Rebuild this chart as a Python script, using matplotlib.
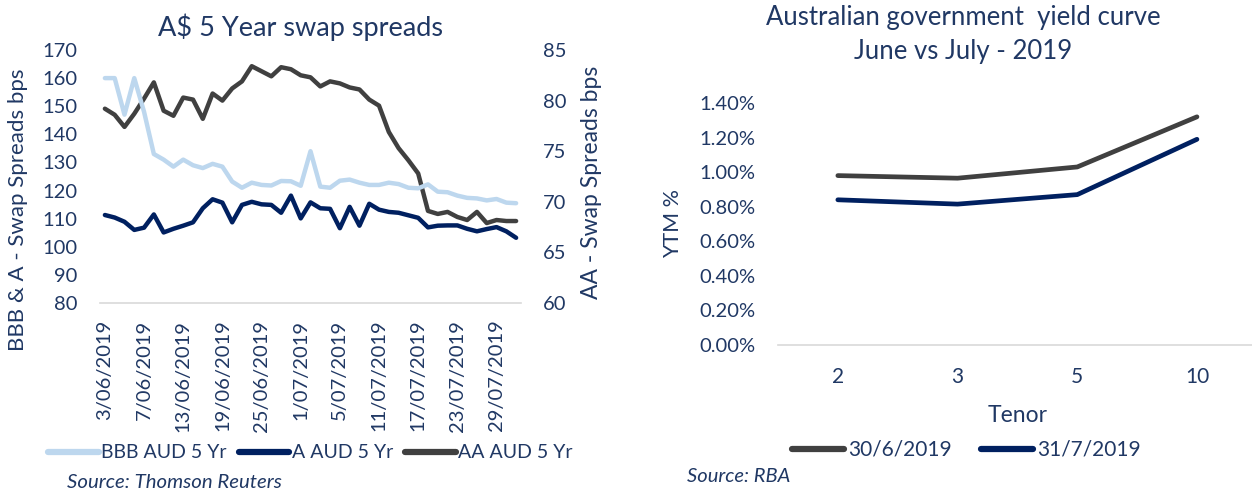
import matplotlib
matplotlib.use("Agg")
import matplotlib.pyplot as plt
from matplotlib.lines import Line2D
import numpy as np
import pandas as pd

plt.rcParams['font.family'] = ['Lato', 'DejaVu Sans']

NAVY_TXT = '#203864'
C_BBB = '#bdd7ee'
C_A = '#002060'
C_AA = '#404040'
GRID = '#d9d9d9'

# business days 3 June - 31 July 2019
dates = pd.bdate_range('2019-06-03', '2019-07-31')
date_labels = [f"{d.day}/{d.month:02d}/{d.year}" for d in dates]

bbb = [160, 160, 147, 160, 148, 133, 131, 128.5, 131, 129, 128, 129.5, 128.5, 123.2,
       121, 122.8, 122, 121.8, 123.4, 123.3, 121.7, 134, 121.4, 121, 123.5, 123.9,
       122.8, 122, 122, 122.8, 122.3, 121, 120.8, 122.2, 119.6, 119.4, 118.2, 117.4,
       117.2, 116.5, 117, 115.7, 115.5]
a = [111.3, 110.4, 108.9, 106, 106.8, 111.5, 105.1, 106.4, 107.5, 108.7, 113.7, 116.9,
     115.7, 108.7, 114.9, 116, 115.1, 114.9, 112.1, 118.2, 110.1, 115.8, 113.7, 113.5,
     106.6, 114.2, 107.5, 115.3, 113.2, 112.4, 112.1, 111.2, 110.3, 106.9, 107.5, 107.6,
     107.6, 106.4, 105.5, 106.3, 107, 105.5, 103.2]
aa = [79.2, 78.6, 77.4, 78.7, 80.2, 81.8, 79.0, 78.5, 80.3, 80.1, 78.2, 80.7, 80.0,
      81.2, 81.9, 83.4, 82.9, 82.4, 83.3, 83.1, 82.5, 82.3, 81.4, 81.9, 81.7, 81.3,
      81.1, 80.1, 79.5, 76.9, 75.3, 74.1, 72.8, 69.1, 68.8, 69.0, 68.5, 68.2, 69.0,
      67.9, 68.2, 68.1, 68.1]

tenors = ['2', '3', '5', '10']
june = [0.98, 0.965, 1.03, 1.32]
july = [0.84, 0.815, 0.87, 1.19]

W, H = 1252, 492
fig = plt.figure(figsize=(W / 100, H / 100), dpi=100)

# ---- left chart
ax = fig.add_axes([100 / W, 1 - 303 / H, 421 / W, 253 / H])
ax2 = ax.twinx()
x = np.arange(len(dates))
ax.plot(x, bbb, color=C_BBB, lw=3.2, solid_joinstyle='round', solid_capstyle='round', zorder=2)
ax.plot(x, a, color=C_A, lw=3.2, solid_joinstyle='round', solid_capstyle='round', zorder=3)
ax2.plot(x, aa, color=C_AA, lw=3.2, solid_joinstyle='round', solid_capstyle='round')
ax.set_zorder(ax2.get_zorder() + 1)
ax.patch.set_visible(False)

ax.set_xlim(-0.5, len(dates) - 0.5)
ax.set_ylim(80, 170)
ax.set_yticks(range(80, 171, 10))
ax2.set_ylim(60, 85)
ax2.set_yticks(range(60, 86, 5))
ax.set_xticks(x[::4])
ax.set_xticklabels(date_labels[::4], rotation=90, va='top', ha='center')

for a_ in (ax, ax2):
    for s in a_.spines.values():
        s.set_visible(False)
    a_.tick_params(length=0, labelsize=14.5, labelcolor=NAVY_TXT)
ax.spines['bottom'].set_visible(True)
ax.spines['bottom'].set_color(GRID)
ax.spines['bottom'].set_linewidth(1.2)
ax.tick_params(axis='x', pad=12, labelsize=14.5)
ax.tick_params(axis='y', pad=16)
ax2.tick_params(axis='y', pad=16)

fig.text(301 / W, 1 - 27 / H, 'A$ 5 Year swap spreads', ha='center', va='center',
         fontsize=19.5, color=NAVY_TXT)
fig.text(18 / W, 1 - 210 / H, 'BBB & A - Swap Spreads bps', rotation=90, ha='center',
         va='center', fontsize=16, color=NAVY_TXT)
fig.text(592 / W, 1 - 182 / H, 'AA - Swap Spreads bps', rotation=90, ha='center',
         va='center', fontsize=16.5, color=NAVY_TXT)

h1 = [Line2D([], [], color=C_BBB, lw=4.5, solid_capstyle='round'),
      Line2D([], [], color=C_A, lw=4.5, solid_capstyle='round'),
      Line2D([], [], color=C_AA, lw=4.5, solid_capstyle='round')]
fig.legend(h1, ['BBB AUD 5 Yr', 'A AUD 5 Yr', 'AA AUD 5 Yr'], loc='center left',
           bbox_to_anchor=(48 / W, 1 - 453 / H), ncol=3, frameon=False, fontsize=14,
           labelcolor=NAVY_TXT, handlelength=2.6, handletextpad=0.15, columnspacing=0.6,
           borderpad=0, borderaxespad=0)
fig.text(67 / W, 1 - 482 / H, 'Source: Thomson Reuters', style='italic', ha='left',
         va='center', fontsize=14.7, color=NAVY_TXT)

# ---- right chart
axr = fig.add_axes([778 / W, 1 - 345 / H, 474 / W, 242 / H])
xr = np.arange(len(tenors))
axr.plot(xr, june, color=C_AA, lw=3.4, solid_capstyle='round', solid_joinstyle='round')
axr.plot(xr, july, color=C_A, lw=3.4, solid_capstyle='round', solid_joinstyle='round')
axr.set_xlim(-0.5, -0.5 + 474 / 119.7)
axr.set_ylim(0, 1.4)
axr.set_yticks(np.arange(0, 1.41, 0.2))
axr.set_yticklabels([f"{v:.2f}%" for v in np.arange(0, 1.41, 0.2)])
axr.set_xticks(xr)
axr.set_xticklabels(tenors)
for s in axr.spines.values():
    s.set_visible(False)
axr.spines['bottom'].set_visible(True)
axr.spines['bottom'].set_color(GRID)
axr.spines['bottom'].set_linewidth(1.2)
axr.tick_params(length=0, labelsize=14.5, labelcolor=NAVY_TXT)
axr.tick_params(axis='x', pad=16, labelsize=15)
axr.tick_params(axis='y', pad=16)

fig.text(963 / W, 1 - 18 / H, 'Australian government  yield curve', ha='center',
         va='center', fontsize=18.5, color=NAVY_TXT)
fig.text(963 / W, 1 - 52 / H, 'June vs July - 2019', ha='center', va='center',
         fontsize=18.5, color=NAVY_TXT)
fig.text(673 / W, 1 - 223 / H, 'YTM %', rotation=90, ha='center', va='center',
         fontsize=15.5, color=NAVY_TXT)
fig.text(1018 / W, 1 - 415 / H, 'Tenor', ha='center', va='center', fontsize=16.5,
         color=NAVY_TXT)

h2 = [Line2D([], [], color=C_AA, lw=4.5, solid_capstyle='round'),
      Line2D([], [], color=C_A, lw=4.5, solid_capstyle='round')]
fig.legend(h2, ['30/6/2019', '31/7/2019'], loc='center left',
           bbox_to_anchor=(792 / W, 1 - 450 / H), ncol=2, frameon=False, fontsize=15,
           labelcolor=NAVY_TXT, handlelength=2.5, handletextpad=0.2, columnspacing=1.4,
           borderpad=0, borderaxespad=0)
fig.text(687 / W, 1 - 477 / H, 'Source: RBA', style='italic', ha='left', va='center',
         fontsize=14.5, color=NAVY_TXT)

fig.savefig('out.png', dpi=100)
